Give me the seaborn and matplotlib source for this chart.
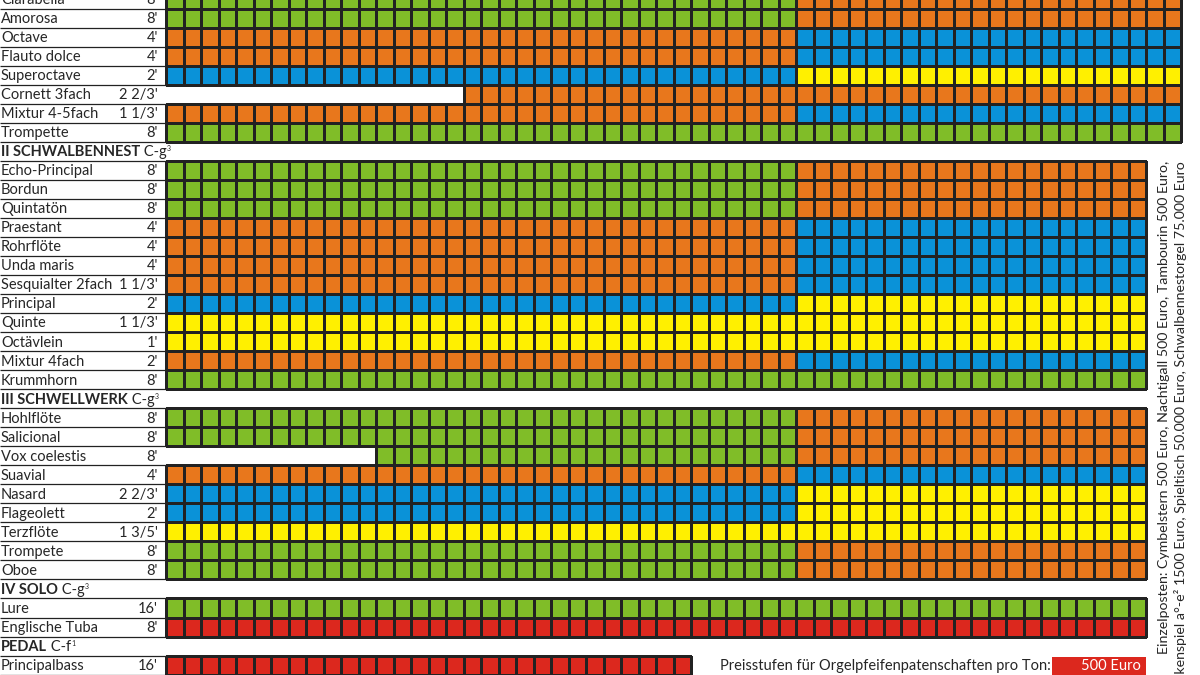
import numpy as np
import seaborn as sns
import matplotlib.pyplot as plt
from matplotlib.colors import ListedColormap, to_rgba
from matplotlib.patches import Rectangle

# price level colours, index = level code
level_colors = ['#80bd28', '#e8771c', '#0a92d8', '#fff000', '#dc281e']
G, O, B, Y, R = 0, 1, 2, 3, 4
H = None  # header row (manual title)

row_names = ['Clarabella', 'Amorosa', 'Octave', 'Flauto dolce', 'Superoctave',
             'Cornett 3fach', 'Mixtur 4-5fach', 'Trompette',
             'II SCHWALBENNEST', 'Echo-Principal', 'Bordun', 'Quintatön', 'Praestant',
             'Rohrflöte', 'Unda maris', 'Sesquialter 2fach', 'Principal', 'Quinte',
             'Octävlein', 'Mixtur 4fach', 'Krummhorn',
             'III SCHWELLWERK', 'Hohlflöte', 'Salicional', 'Vox coelestis', 'Suavial',
             'Nasard', 'Flageolett', 'Terzflöte', 'Trompete', 'Oboe',
             'IV SOLO', 'Lure', 'Englische Tuba',
             'PEDAL', 'Principalbass']
row_feet = ["8'", "8'", "4'", "4'", "2'", "2 2/3'", "1 1/3'", "8'",
            "C-g", "8'", "8'", "8'", "4'", "4'", "4'", "1 1/3'", "2'", "1 1/3'", "1'", "2'", "8'",
            "C-g", "8'", "8'", "8'", "4'", "2 2/3'", "2'", "1 3/5'", "8'", "8'",
            "C-g", "16'", "8'",
            "C-f", "16'"]
header_sup = {'II SCHWALBENNEST': '3', 'III SCHWELLWERK': '3', 'IV SOLO': '3', 'PEDAL': '1'}

low_level = [G, G, O, O, B, O, O, G,
             H, G, G, G, O, O, O, O, B, Y, Y, O, G,
             H, G, G, G, O, B, B, Y, G, G,
             H, G, R,
             H, R]
high_level = [O, O, B, B, Y, O, B, G,
              H, O, O, O, B, B, B, B, Y, Y, Y, B, G,
              H, O, O, O, B, Y, Y, Y, O, O,
              H, G, R,
              H, R]
first_key = [0, 0, 0, 0, 0, 17, 0, 0,
             0, 0, 0, 0, 0, 0, 0, 0, 0, 0, 0, 0, 0,
             0, 0, 0, 12, 0, 0, 0, 0, 0, 0,
             0, 0, 0,
             0, 0]
key_count = [58] * 8 + [0] + [56] * 12 + [0] + [56] * 9 + [0, 56, 56] + [0, 30]
split_key = 36

price_title = 'Preisstufen für Orgelpfeifenpatenschaften pro Ton:'
price_labels = ['500 Euro']
extra_lines = ['Einzelposten: Cymbelstern 500 Euro, Nachtigall 500 Euro, Tambourin 500 Euro,',
               'Glockenspiel a°-e² 1500 Euro, Spieltisch 50.000 Euro, Schwalbennestorgel 75.000 Euro']

n_rows = len(row_names)
n_cols = max(key_count)
grid = np.full((n_rows, n_cols), np.nan)
for i in range(n_rows):
    if low_level[i] is None:
        continue
    grid[i, first_key[i]:min(split_key, key_count[i])] = low_level[i]
    grid[i, split_key:key_count[i]] = high_level[i]

sns.set_style("white")
plt.rcParams['font.family'] = ['Lato', 'DejaVu Sans']

fig = plt.figure(figsize=(12, 6.75), dpi=100)
ax = fig.add_axes([0, 0, 1, 1])

line_col = '#222222'
sns.heatmap(grid, ax=ax, cmap=ListedColormap(level_colors), vmin=-0.5, vmax=4.5,
            cbar=False, linewidths=0.9, linecolor=line_col,
            xticklabels=False, yticklabels=False)

# no borders around empty cells
mesh = ax.collections[0]
empty = np.isnan(grid).ravel()
ec = np.array([to_rgba(line_col)] * len(empty))
ec[empty] = (0, 0, 0, 0)
mesh.set_edgecolors(ec)

cw = 17.5  # px per key
label_w = 166 / cw
ax.set_xlim(-label_w, (1200 - 166) / cw)
ax.set_ylim(36.02, 0.552)
ax.set_axis_off()

# label table lines
ax.hlines(np.arange(n_rows + 1), -label_w, 0, color=line_col, lw=0.9)

fs = 10.5
for i, name in enumerate(row_names):
    y = i + 0.55
    if low_level[i] is None:
        t = ax.text(-label_w + 0.06, y, name, fontsize=fs, weight='bold', va='center', ha='left')
        t2 = ax.annotate(' ' + row_feet[i], xy=(1, 0), xycoords=t, va='bottom', ha='left', fontsize=fs)
        ax.annotate(header_sup[name], xy=(1, 0.98), xycoords=t2, va='top', ha='left', fontsize=5)
    else:
        ax.text(-label_w + 0.06, y, name, fontsize=fs, va='center', ha='left')
        ax.text(-0.46, y, row_feet[i], fontsize=fs, va='center', ha='right')

# price legend in the pedal row
leg_row = n_rows - 1
ax.text(31.66, leg_row + 0.55, price_title, fontsize=fs, va='center', ha='left')
ax.add_patch(Rectangle((50.63, leg_row + 0.05), 56 - 50.63, 1.2, color=level_colors[R], lw=0))
ax.text(55.7, leg_row + 0.55, price_labels[0], fontsize=fs, va='center', ha='right', color='white')

# single items, rotated along the right edge
for k, line in enumerate(extra_lines):
    ax.text(57.0 + 0.98 * k, 9.0, line, fontsize=10.2, rotation=90, va='top', ha='center')

plt.savefig('out.png', dpi=100)
